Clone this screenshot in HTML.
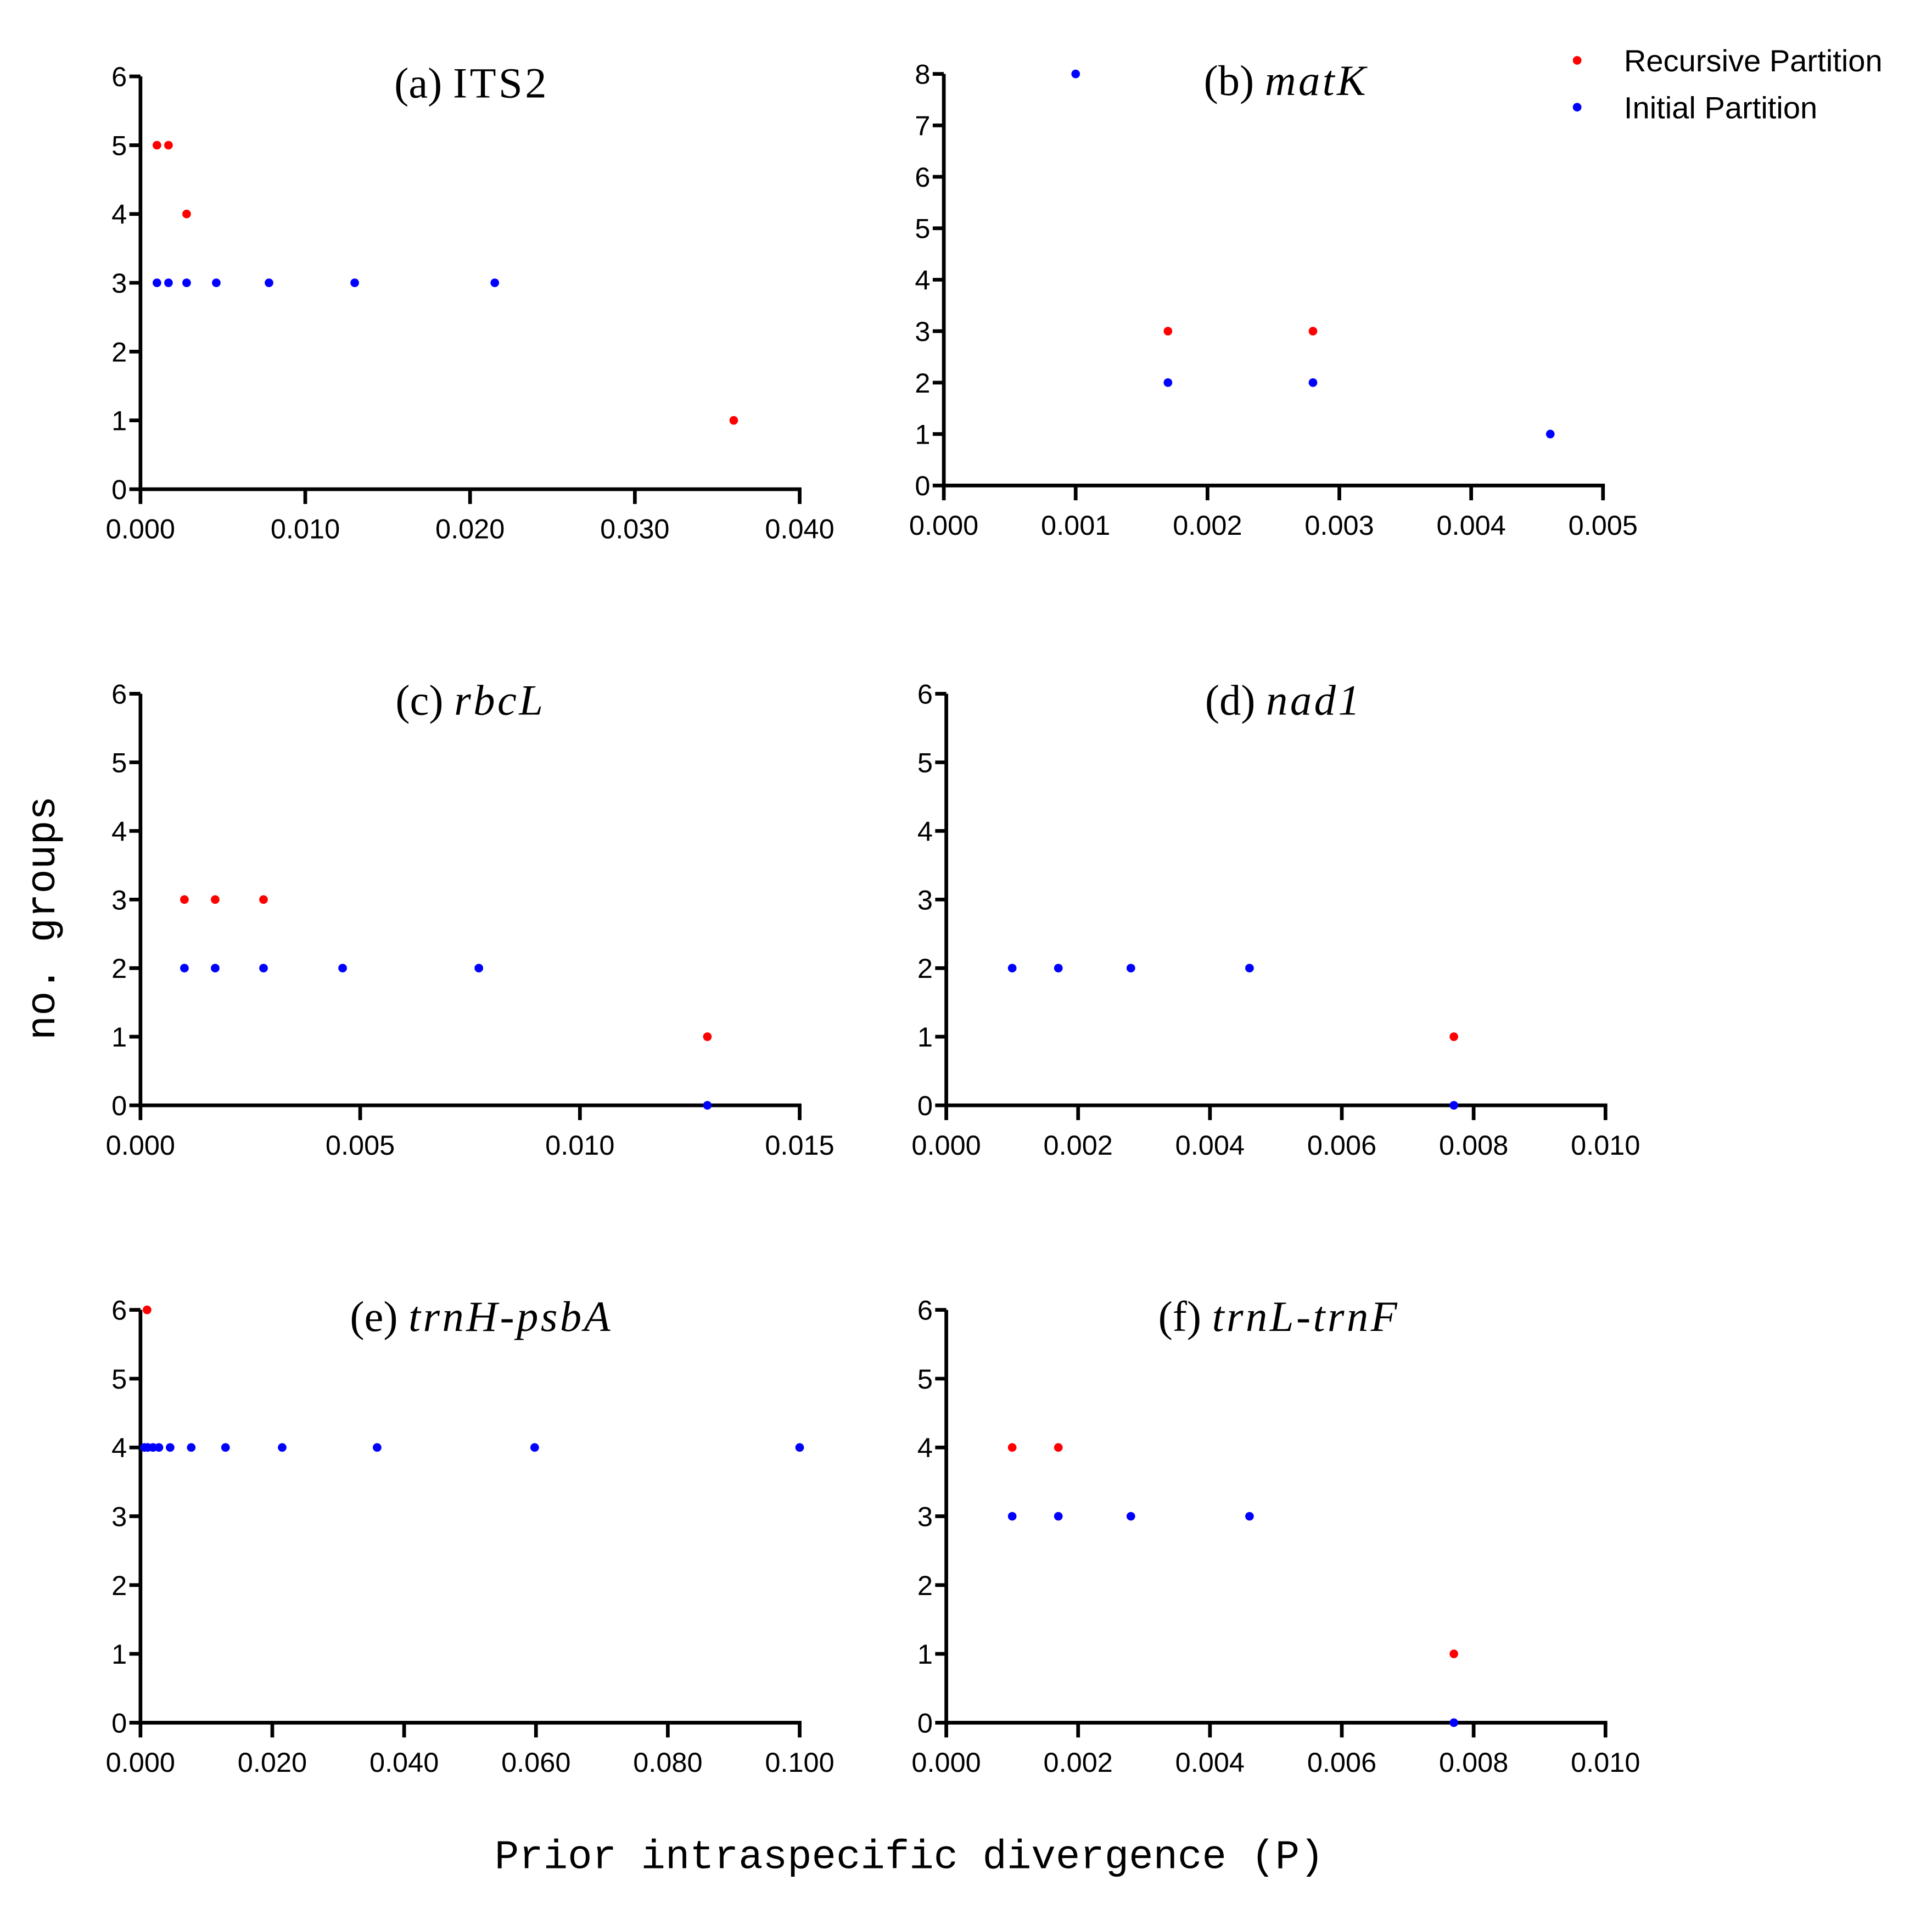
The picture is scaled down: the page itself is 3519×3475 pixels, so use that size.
<!DOCTYPE html>
<html><head><meta charset="utf-8"><style>
html,body{margin:0;padding:0;background:#fff;}
svg{display:block;}
.tk{font-family:"Liberation Sans",sans-serif;font-size:22.5px;fill:#000;}
.ti{font-family:"Liberation Serif",serif;font-size:35px;fill:#000;}
.lg{font-family:"Liberation Sans",sans-serif;font-size:25px;fill:#000;}
.ax{font-family:"Liberation Mono",monospace;font-size:33px;fill:#000;}
</style></head><body>
<svg id="fig" xmlns="http://www.w3.org/2000/svg" width="3519" height="3475" viewBox="0 0 1568 1548.4">
<rect width="1568" height="1548.4" fill="#fff"/>
<text class="ax" transform="translate(44,745) rotate(-90)" text-anchor="middle">no. groups</text>
<text class="ax" x="738" y="1516" text-anchor="middle">Prior intraspecific divergence (P)</text>
<g>
<circle cx="1280" cy="49" r="3.5" fill="#ff0000"/>
<text class="lg" x="1318" y="58">Recursive Partition</text>
<circle cx="1280" cy="87" r="3.5" fill="#0000ff"/>
<text class="lg" x="1318" y="96">Initial Partition</text>
</g>
</svg>
<script>
// panel (a) ITS2
const aRedX=[0.001,0.0017,0.0028,0.036]; const aRedY=[5,5,4,1];
const aBlueX=[0.001,0.0017,0.0028,0.0046,0.0078,0.013,0.0215]; const aBlueY=[3,3,3,3,3,3,3];
const aXTicks=["0.000","0.010","0.020","0.030","0.040"];
// panel (b) matK
const bRedX=[0.0017,0.0028]; const bRedY=[3,3];
const bBlueX=[0.001,0.0017,0.0028,0.0046]; const bBlueY=[8,2,2,1];
const bXTicks=["0.000","0.001","0.002","0.003","0.004","0.005"];
// panel (c) rbcL
const cRedX=[0.001,0.0017,0.0028,0.0129]; const cRedY=[3,3,3,1];
const cBlueX=[0.001,0.0017,0.0028,0.0046,0.0077,0.0129]; const cBlueY=[2,2,2,2,2,0];
const cXTicks=["0.000","0.005","0.010","0.015"];
// panel (d) nad1
const dRedX=[0.0077]; const dRedY=[1];
const dBlueX=[0.001,0.0017,0.0028,0.0046,0.0077]; const dBlueY=[2,2,2,2,0];
const dXTicks=["0.000","0.002","0.004","0.006","0.008","0.010"];
// panel (e) trnH-psbA
const eRedX=[0.001]; const eRedY=[6];
const eBlueX=[0.0006,0.0011,0.0019,0.0028,0.0045,0.0077,0.0129,0.0215,0.0359,0.0598,0.1]; const eBlueY=[4,4,4,4,4,4,4,4,4,4,4];
const eXTicks=["0.000","0.020","0.040","0.060","0.080","0.100"];
// panel (f) trnL-trnF
const fRedX=[0.001,0.0017,0.0077]; const fRedY=[4,4,1];
const fBlueX=[0.001,0.0017,0.0028,0.0046,0.0077]; const fBlueY=[3,3,3,3,0];
const fXTicks=["0.000","0.002","0.004","0.006","0.008","0.010"];

const NS="http://www.w3.org/2000/svg";
const svg=document.getElementById('fig');
function mk(t,a,p){const e=document.createElementNS(NS,t);for(const k in a)e.setAttribute(k,a[k]);(p||svg).appendChild(e);return e;}

function panel(id,x0,x1,yb,yt,xmax,ymax,xticks,rx,ry,bx,by,label,gene,italic,titleX){
  const g=mk('g',{});
  
  
  const sx=v=>x0+(v/xmax)*(x1-x0);
  const sy=v=>yb-(v/ymax)*(yb-yt);
  const ya=mk('line',{x1:x0,y1:yt,x2:x0,y2:yb,stroke:'#000','stroke-width':3},g);
  
  
  const xa=mk('line',{x1:x0-1.5,y1:yb,x2:x1+1.5,y2:yb,stroke:'#000','stroke-width':3},g);
  
  
  for(let i=0;i<=ymax;i++){
    const y=sy(i);
    mk('line',{x1:x0-9,y1:y,x2:x0,y2:y,stroke:'#000','stroke-width':3},g);
    const t=mk('text',{x:x0-11,y:y+8,'text-anchor':'end',class:'tk'},g);
    
    
    t.textContent=i;
  }
  const n=xticks.length-1;
  xticks.forEach((lab,i)=>{
    const x=x0+(x1-x0)*i/n;
    mk('line',{x1:x,y1:yb,x2:x,y2:yb+12,stroke:'#000','stroke-width':3},g);
    const t=mk('text',{x:x,y:yb+40,'text-anchor':'middle',class:'tk'},g);
    
    
    t.textContent=lab;
  });
  const tt=mk('text',{x:titleX,y:yt+17,class:'ti'},g);
  
  
  const s1=mk('tspan',{},tt); s1.textContent=label+' ';
  const s2=mk('tspan',{'font-style':italic?'italic':'normal','letter-spacing':'2'},tt); s2.textContent=gene;
  rx.forEach((v,i)=>{
    const c=mk('circle',{cx:sx(v),cy:sy(ry[i]),r:3.5,fill:'#ff0000'},g);
    
    
  });
  bx.forEach((v,i)=>{
    const c=mk('circle',{cx:sx(v),cy:sy(by[i]),r:3.5,fill:'#0000ff'},g);
    
    
  });
}
panel('a',114,649,397,62,0.04,6,aXTicks,aRedX,aRedY,aBlueX,aBlueY,'(a)','ITS2',false,320);
panel('b',766,1301,394,60,0.005,8,bXTicks,bRedX,bRedY,bBlueX,bBlueY,'(b)','matK',true,977);
panel('c',114,649,897,563,0.015,6,cXTicks,cRedX,cRedY,cBlueX,cBlueY,'(c)','rbcL',true,321);
panel('d',768,1303,897,563,0.010,6,dXTicks,dRedX,dRedY,dBlueX,dBlueY,'(d)','nad1',true,978);
panel('e',114,649,1398,1063,0.1,6,eXTicks,eRedX,eRedY,eBlueX,eBlueY,'(e)','trnH-psbA',true,284);
panel('f',768,1303,1398,1063,0.010,6,fXTicks,fRedX,fRedY,fBlueX,fBlueY,'(f)','trnL-trnF',true,940);
</script>
</body></html>
